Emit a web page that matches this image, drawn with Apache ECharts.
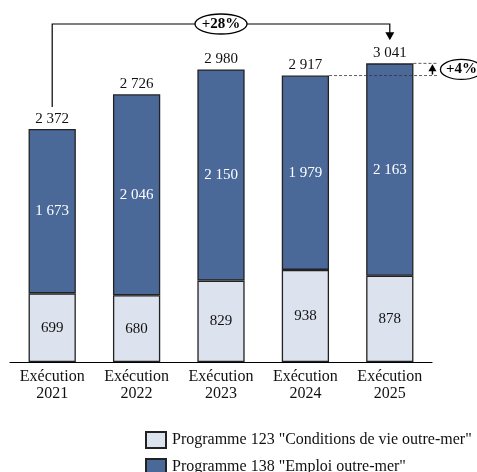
<!DOCTYPE html>
<html><head><meta charset="utf-8">
<script src="https://cdn.jsdelivr.net/npm/echarts@6/dist/echarts.min.js"></script>
<style>html,body{margin:0;padding:0;background:#fff}#c{width:477px;height:472px}</style>
</head><body><div id="c"></div>
<script>
const categories = ['Exécution\n2021','Exécution\n2022','Exécution\n2023','Exécution\n2024','Exécution\n2025'];
const prog123 = [699, 680, 829, 938, 878];
const prog138 = [1673, 2046, 2150, 1979, 2163];
const totals = [2372, 2726, 2980, 2917, 3041];
const seriesNames = ['Programme 123 "Conditions de vie outre-mer"', 'Programme 138 "Emploi outre-mer"'];
const growthLabels = ['+28%', '+4%'];

const FONT = '"Liberation Serif", "DejaVu Serif", serif';
const fmt = v => { const s = String(v); return s.length > 3 ? s.slice(0, s.length-3) + ' ' + s.slice(-3) : s; };

const chart = echarts.init(document.getElementById('c'), null, {renderer:'canvas'});
const option = {
  animation: false,
  textStyle: {fontFamily: FONT},
  grid: {left: 10, right: 45, top: 18.3, bottom: 110, containLabel: false},
  xAxis: {
    type: 'category', data: categories,
    axisLine: {lineStyle: {color: '#000', width: 1.2}},
    axisTick: {show: false},
    axisLabel: {color: '#111', fontFamily: FONT, fontSize: 16, lineHeight: 17, margin: 6}
  },
  yAxis: {type: 'value', min: 0, max: 3500, show: false, splitLine: {show: false}},
  legend: {
    orient: 'vertical', left: 145, top: 431, itemWidth: 20, itemHeight: 16, itemGap: 9,
    padding: 0, height: 60,
    icon: 'rect',
    textStyle: {fontFamily: FONT, fontSize: 16, color: '#111', padding: [0,0,0,1]},
    data: seriesNames
  },
  series: [
    {
      name: seriesNames[0], type: 'bar', stack: 's', data: prog123, barWidth: '56%',
      itemStyle: {color: '#DCE2EE', borderColor: '#222', borderWidth: 1.3},
      label: {show: true, position: 'inside', color: '#111', fontFamily: FONT, fontSize: 15, formatter: p => fmt(p.value)}
    },
    {
      name: seriesNames[1], type: 'bar', stack: 's', data: prog138, barWidth: '56%',
      itemStyle: {color: '#4A6999', borderColor: '#222', borderWidth: 1.3},
      label: {show: true, position: 'inside', color: '#fff', fontFamily: FONT, fontSize: 15, formatter: p => fmt(p.value)}
    },
    {
      name: 'total', type: 'bar', stack: 's', data: prog138.map(() => 0), barWidth: '56%',
      itemStyle: {color: 'transparent', borderWidth: 0},
      label: {show: true, position: 'top', distance: 3, color: '#111', fontFamily: FONT, fontSize: 15,
        formatter: p => fmt(totals[p.dataIndex])}
    }
  ]
};
chart.setOption(option);

const px = (i, v) => chart.convertToPixel({gridIndex: 0}, [i, v]);
const c0 = px(0, totals[0]);
const c4 = px(4, totals[4]);
const c3 = px(3, totals[3]);
const bandW = px(1, 0)[0] - px(0, 0)[0];
const halfBar = bandW * 0.56 / 2;
const yBracket = 24;
const midX = (c0[0] + c4[0]) / 2;
const arrowX = c4[0] + halfBar + 19;
const dashEnd = arrowX + 6;

const graphics = [
  {type: 'polyline', shape: {points: [[c0[0], c0[1] - 22], [c0[0], yBracket], [c4[0], yBracket], [c4[0], c4[1] - 30]]},
   style: {stroke: '#000', lineWidth: 1.2, fill: null}, z: 10},
  {type: 'polygon', shape: {points: [[c4[0] - 4.5, c4[1] - 31], [c4[0] + 4.5, c4[1] - 31], [c4[0], c4[1] - 23]]},
   style: {fill: '#000'}, z: 10},
  {type: 'ellipse', shape: {cx: midX, cy: yBracket, rx: 26, ry: 10}, style: {fill: '#fff', stroke: '#000', lineWidth: 1.3}, z: 11},
  {type: 'text', x: midX, y: yBracket, style: {text: growthLabels[0], fontFamily: FONT, fontSize: 15, fontWeight: 'bold', fill: '#000', align: 'center', verticalAlign: 'middle'}, z: 12},
  {type: 'line', shape: {x1: c3[0] + halfBar, y1: c3[1], x2: dashEnd, y2: c3[1]}, style: {stroke: '#333', lineWidth: 0.8, lineDash: [3, 2]}, z: 10},
  {type: 'line', shape: {x1: c4[0] + halfBar, y1: c4[1], x2: dashEnd, y2: c4[1]}, style: {stroke: '#333', lineWidth: 0.8, lineDash: [3, 2]}, z: 10},
  {type: 'line', shape: {x1: arrowX, y1: c3[1] - 1, x2: arrowX, y2: c4[1] + 7}, style: {stroke: '#000', lineWidth: 1.5}, z: 10},
  {type: 'polygon', shape: {points: [[arrowX - 4, c4[1] + 8], [arrowX + 4, c4[1] + 8], [arrowX, c4[1] + 1]]}, style: {fill: '#000'}, z: 10},
  {type: 'ellipse', shape: {cx: dashEnd + 23, cy: (c3[1] + c4[1]) / 2, rx: 21, ry: 10}, style: {fill: '#fff', stroke: '#000', lineWidth: 1.3}, z: 11},
  {type: 'text', x: dashEnd + 23, y: (c3[1] + c4[1]) / 2, style: {text: growthLabels[1], fontFamily: FONT, fontSize: 15, fontWeight: 'bold', fill: '#000', align: 'center', verticalAlign: 'middle'}, z: 12}
];
chart.setOption({graphic: graphics});
</script>
</body></html>
